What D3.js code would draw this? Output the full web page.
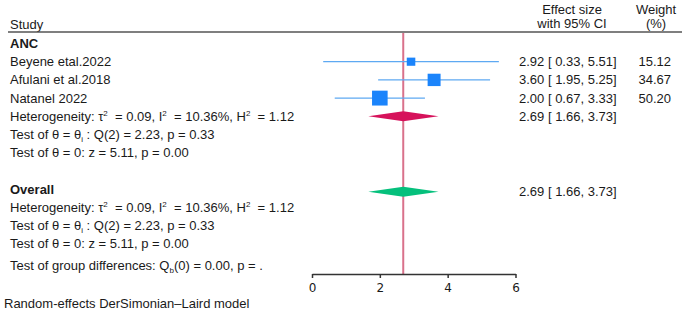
<!DOCTYPE html>
<html lang="en">
<head>
  <meta charset="UTF-8">
  <title>Forest plot - ANC</title>
  <script src="https://d3js.org/d3.v7.min.js"></script>
  <style>
    body {
      margin: 0;
      background: #fff;
    }
    svg text {
      font-family: "Liberation Sans", Arial, sans-serif;
      font-size: 13px;
      fill: #1a1a1a;
    }
    .axis text {
      font-family: "DejaVu Sans", sans-serif;
      font-size: 12px;
    }
    .axis path, .axis line {
      stroke: #333;
      stroke-width: 1.5;
    }
  </style>
</head>
<body>
  <div id="chart"></div>

  <script>
    // study data
    const studies = ["Beyene etal.2022", "Afulani et al.2018", "Natanel 2022"];
    const effect = [2.92, 3.60, 2.00];
    const lower = [0.33, 1.95, 0.67];
    const upper = [5.51, 5.25, 3.33];
    const weight = [15.12, 34.67, 50.20];

    // pooled estimate (subgroup and overall are the same here)
    const pooled = { est: 2.69, lo: 1.66, hi: 3.73 };
    const axisTicks = [0, 2, 4, 6];

    const width = 688;
    const height = 317;

    const x = d3.scaleLinear().domain([0, 6]).range([312, 515.5]);
    const row = d3.scaleLinear().domain([0, 1]).range([43.5, 61.7]);

    const svg = d3.select("#chart")
      .append("svg")
      .attr("width", width)
      .attr("height", height);

    // header
    svg.append("text").attr("x", 10).attr("y", 24).attr("dy", "0.35em").text("Study");
    svg.append("text").attr("x", 572).attr("y", 9).attr("dy", "0.35em").attr("text-anchor", "middle").text("Effect size");
    svg.append("text").attr("x", 572).attr("y", 23).attr("dy", "0.35em").attr("text-anchor", "middle").text("with 95% CI");
    svg.append("text").attr("x", 656).attr("y", 9).attr("dy", "0.35em").attr("text-anchor", "middle").text("Weight");
    svg.append("text").attr("x", 656).attr("y", 23).attr("dy", "0.35em").attr("text-anchor", "middle").text("(%)");

    svg.append("line")
      .attr("x1", 8).attr("x2", 682)
      .attr("y1", 32).attr("y2", 32)
      .attr("stroke", "#555")
      .attr("stroke-width", 1.5);

    // reference line at the pooled estimate
    svg.append("line")
      .attr("x1", x(pooled.est)).attr("x2", x(pooled.est))
      .attr("y1", 33).attr("y2", 274)
      .attr("stroke", "#d9718b")
      .attr("stroke-width", 2);

    // left column labels
    function label(i, txt, bold) {
      return svg.append("text")
        .attr("x", 10)
        .attr("y", row(i))
        .attr("dy", "0.35em")
        .attr("font-weight", bold ? "bold" : null)
        .text(txt);
    }

    // small raised / lowered piece, then back to the baseline
    function sup(t, s, rest, shift) {
      t.append("tspan").attr("dy", shift).attr("font-size", "8px").text(s);
      t.append("tspan").attr("dy", -shift).text(rest);
    }

    function hetero(i) {
      const t = label(i, "Heterogeneity: τ").attr("xml:space", "preserve");
      sup(t, "2", "  = 0.09, I", -5);
      sup(t, "2", "  = 10.36%, H", -5);
      sup(t, "2", "  = 1.12", -5);
    }

    function testI(i) {
      const t = label(i, "Test of θ = θ").attr("xml:space", "preserve");
      sup(t, "i", " : Q(2) = 2.23, p = 0.33", 3);
    }

    label(0, "ANC", true);
    studies.forEach((s, i) => label(i + 1, s));
    hetero(4);
    testI(5);
    label(6, "Test of θ = 0: z = 5.11, p = 0.00");
    label(8, "Overall", true);
    hetero(9);
    testI(10);
    label(11, "Test of θ = 0: z = 5.11, p = 0.00");
    const g = label(12.2, "Test of group differences: Q");
    sup(g, "b", "(0) = 0.00, p = .", 3);

    // study CIs and weighted squares
    const studyRows = studies.map((s, i) => ({
      name: s, es: effect[i], lo: lower[i], hi: upper[i], w: weight[i], r: i + 1
    }));

    svg.append("g")
      .selectAll("line")
      .data(studyRows)
      .join("line")
        .attr("x1", d => x(d.lo))
        .attr("x2", d => x(d.hi))
        .attr("y1", d => row(d.r))
        .attr("y2", d => row(d.r))
        .attr("stroke", "#5ea9f2")
        .attr("stroke-width", 1.3);

    svg.append("g")
      .selectAll("rect")
      .data(studyRows)
      .join("rect")
        .attr("x", d => x(d.es) - Math.sqrt(d.w) * 1.1)
        .attr("y", d => row(d.r) - Math.sqrt(d.w) * 1.05)
        .attr("width", d => Math.sqrt(d.w) * 2.2)
        .attr("height", d => Math.sqrt(d.w) * 2.1)
        .attr("fill", "#1b84fb");

    // effect size and weight columns
    const fmt = d3.format(".2f");
    const ci = (es, lo, hi) => `${fmt(es)} [ ${fmt(lo)}, ${fmt(hi)}]`;

    svg.append("g")
      .selectAll("text")
      .data(studyRows)
      .join("text")
        .attr("x", 519)
        .attr("y", d => row(d.r))
        .attr("dy", "0.35em")
        .text(d => ci(d.es, d.lo, d.hi));

    svg.append("g")
      .selectAll("text")
      .data(studyRows)
      .join("text")
        .attr("x", 671)
        .attr("y", d => row(d.r))
        .attr("dy", "0.35em")
        .attr("text-anchor", "end")
        .text(d => fmt(d.w));

    // pooled diamonds
    const diamonds = [
      { r: 4, color: "#d6125b" },
      { r: 8.15, color: "#05c07c" }
    ];
    svg.append("g")
      .selectAll("path")
      .data(diamonds)
      .join("path")
        .attr("d", d => {
          const y = row(d.r);
          return `M${x(pooled.lo)},${y}L${x(pooled.est)},${y - 5}L${x(pooled.hi)},${y}L${x(pooled.est)},${y + 5}Z`;
        })
        .attr("fill", d => d.color);

    svg.append("g")
      .selectAll("text")
      .data(diamonds)
      .join("text")
        .attr("x", 519)
        .attr("y", d => row(d.r))
        .attr("dy", "0.35em")
        .text(ci(pooled.est, pooled.lo, pooled.hi));

    // x axis
    const axis = svg.append("g")
      .attr("class", "axis")
      .attr("transform", "translate(0,274)")
      .call(d3.axisBottom(x).tickValues(axisTicks).tickSize(4).tickSizeOuter(0).tickFormat(d3.format("d")));
    axis.selectAll("text").attr("fill", "#222").attr("dy", "0.9em");

    svg.append("text")
      .attr("x", 4)
      .attr("y", 303)
      .attr("dy", "0.35em")
      .text("Random-effects DerSimonian–Laird model");
  </script>
</body>
</html>
